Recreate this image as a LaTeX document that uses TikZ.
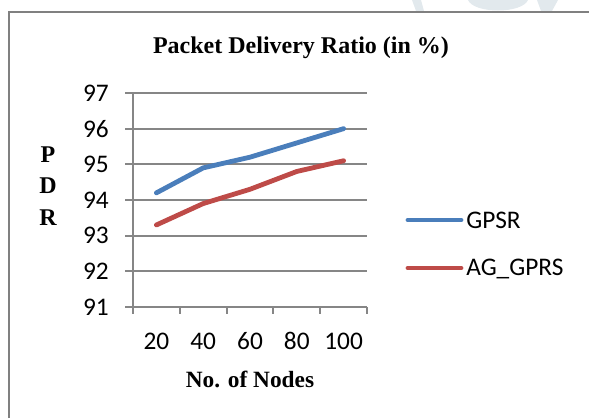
\documentclass[tikz,border=0pt]{standalone}
\usepackage{fontspec}
\setmainfont{Liberation Serif}
\newfontfamily\chartfont{Carlito}
\definecolor{gpsrblue}{HTML}{4A7EBB}
\definecolor{agred}{HTML}{BE4B48}
\definecolor{gridgrey}{HTML}{868686}
\definecolor{framegrey}{HTML}{808080}
\definecolor{markpale}{HTML}{E2E9ED}
\tikzset{
  gridline/.style={draw=gridgrey, line width=1.4pt},
  seriesline/.style={line width=3.6pt, line cap=round, line join=round},
  ticklabel/.style={font=\chartfont\fontsize{19}{22}\selectfont, inner sep=0pt},
  boldlabel/.style={font=\bfseries\fontsize{18}{21}\selectfont, inner sep=0pt},
}
\begin{document}
\begin{tikzpicture}[x=0.75pt, y=-0.75pt]
  \useasboundingbox (0,0) rectangle (589,418);

  % faint watermark above the frame
  \fill[markpale] (412,0) -- (421,0) -- (424,11) -- (416,11) -- cycle;
  \fill[markpale] (468,0) .. controls (474,14) and (522,14) .. (528,0) -- cycle;
  \fill[markpale] (537,0) -- (558,0) -- (552,11) -- (541,11) -- cycle;

  % frame
  \draw[framegrey, line width=1.1pt] (9,418) -- (9,12) -- (589,12);

  \node[boldlabel, anchor=base] (title) at (301,53) {Packet Delivery Ratio (in \%)};

  % grid and value axis
  \foreach \v [evaluate=\v as \yy using {307-(\v-91)*35.67}] in {91,...,97} {
    \draw[gridline] (125,\yy) -- (367,\yy);
    \node[ticklabel, anchor=east] (y\v) at (109,\yy) {\v};
  }
  \draw[gridline] (133,93) -- (133,307);

  % category ticks
  \foreach \k in {0,...,5}
    \draw[gridline] ({133+\k*46.8},307) -- ++(0,7);
  \foreach \n [count=\k from 0] in {20,40,60,80,100}
    \node[ticklabel, anchor=base] (x\n) at ({156.4+\k*46.8},349) {\n};

  \node[boldlabel, font=\bfseries\fontsize{17.5}{21}\selectfont, anchor=base] (xlabel) at (250,387) {No. of Nodes};
  \node[boldlabel, anchor=base] (lp) at (48,162) {P};
  \node[boldlabel, anchor=base] (ld) at (48,193) {D};
  \node[boldlabel, anchor=base] (lr) at (48,225) {R};

  % data points
  \foreach \g/\a [count=\k from 0] in {94.2/93.3, 94.9/93.9, 95.2/94.3, 95.6/94.8, 96.0/95.1} {
    \coordinate (g\k) at ({156.4+\k*46.8},{307-(\g-91)*35.67});
    \coordinate (a\k) at ({156.4+\k*46.8},{307-(\a-91)*35.67});
  }
  \draw[seriesline, gpsrblue] (g0) -- (g1) -- (g2) -- (g3) -- (g4);
  \draw[seriesline, agred] (a0) -- (a1) -- (a2) -- (a3) -- (a4);

  % legend
  \coordinate (gpsrl) at (408,220);
  \coordinate (gpsrr) at (461,220);
  \coordinate (agl) at (408,268);
  \coordinate (agr) at (461,268);
  \draw[seriesline, gpsrblue] (gpsrl) -- (gpsrr);
  \draw[seriesline, agred] (agl) -- (agr);
  \node[ticklabel, anchor=base west] (gpsr) at (466,228) {GPSR};
  \node[ticklabel, anchor=base west] (aggprs) at (466,275) {AG\_GPRS};
\end{tikzpicture}
\end{document}
